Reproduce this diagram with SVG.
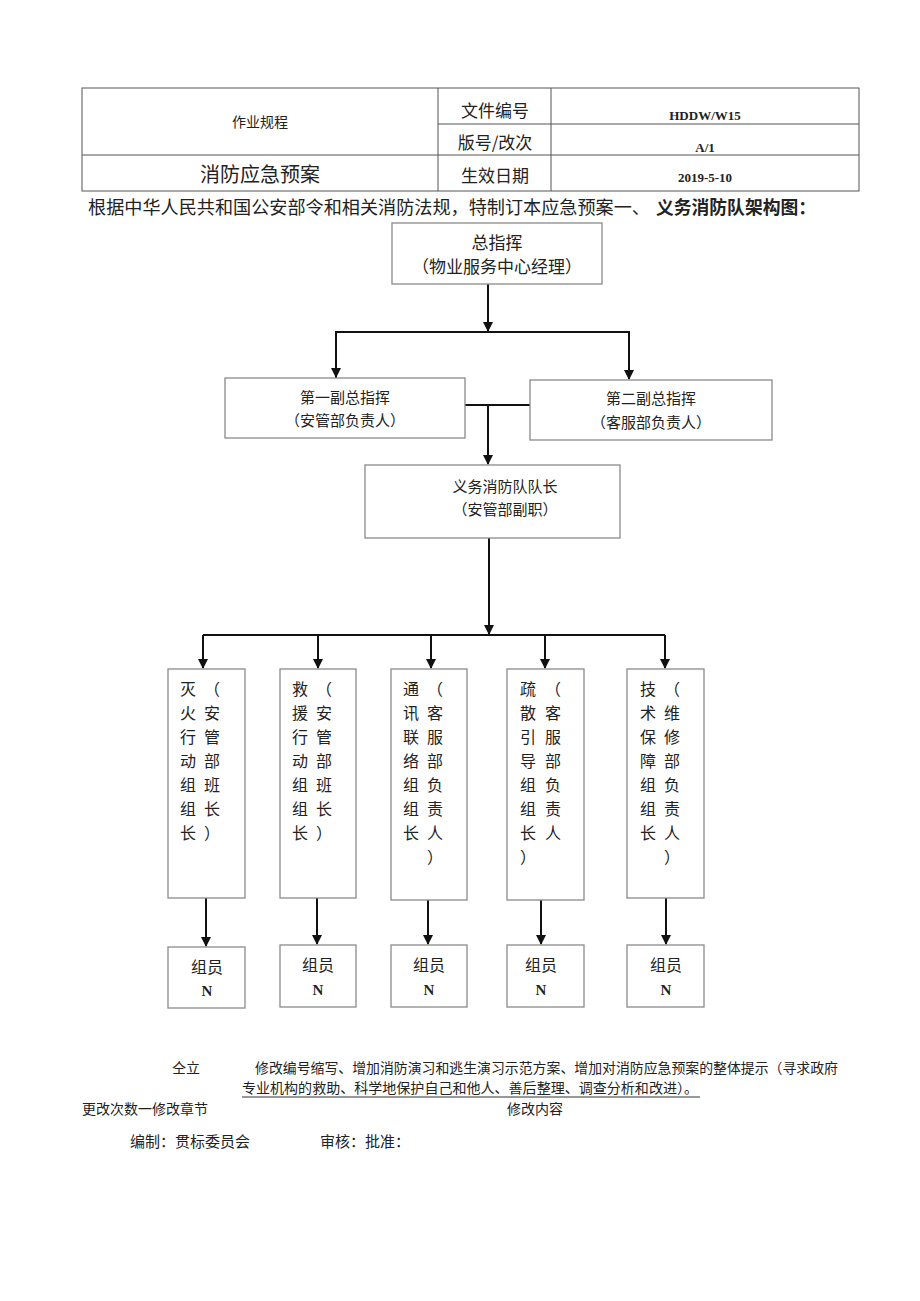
<svg xmlns="http://www.w3.org/2000/svg" width="920" height="1301" viewBox="0 0 920 1301">
<defs>
<marker id="ah" viewBox="0 0 10 10" refX="9" refY="5" markerWidth="5" markerHeight="5" orient="auto" markerUnits="strokeWidth">
<path d="M0,0 L10,5 L0,10 z" fill="#111"/>
</marker>
<style>
.t{font-family:"Liberation Serif","Noto Sans CJK SC",serif;fill:#222}
.s{font-family:"Noto Sans CJK SC",sans-serif;fill:#222}
.c{text-anchor:middle}
.b{fill:#fff;stroke:#8a8a8a;stroke-width:1.3}
.tb{fill:none;stroke:#555;stroke-width:1}
.ln{fill:none;stroke:#111;stroke-width:2}
.ar{fill:none;stroke:#111;stroke-width:2;marker-end:url(#ah)}
.n{font-size:16px}
</style>
</defs>
<rect width="920" height="1301" fill="#fff"/>

<g id="header">
<rect class="tb" x="82" y="88" width="777" height="103"/>
<line class="tb" x1="438" y1="88" x2="438" y2="191"/>
<line class="tb" x1="551" y1="88" x2="551" y2="191"/>
<line class="tb" x1="438" y1="124" x2="859" y2="124"/>
<line class="tb" x1="82" y1="155" x2="859" y2="155"/>
<text class="s c" x="260" y="127" font-size="14">作业规程</text>
<text class="s c" x="495" y="117" font-size="17">文件编号</text>
<text class="s c" x="495" y="149" font-size="17">版号/改次</text>
<text class="s c" x="260" y="182" font-size="20">消防应急预案</text>
<text class="s c" x="495" y="182" font-size="17">生效日期</text>
<text class="t c" x="705" y="120" font-size="13" font-weight="bold">HDDW/W15</text>
<text class="t c" x="705" y="152" font-size="13" font-weight="bold">A/1</text>
<text class="t c" x="705" y="182" font-size="13" font-weight="bold">2019-5-10</text>
<text class="t" x="88" y="214" font-size="18" textLength="562" lengthAdjust="spacingAndGlyphs">根据中华人民共和国公安部令和相关消防法规，特制订本应急预案一、</text>
<text class="t" x="656" y="214" font-size="18" font-weight="bold" textLength="160" lengthAdjust="spacingAndGlyphs">义务消防队架构图：</text>
</g>

<g id="connectors">
<line class="ar" x1="488" y1="284" x2="488" y2="331"/>
<polyline class="ln" points="336,378 336,332 629,332 629,378"/>
<line class="ar" x1="336" y1="332" x2="336" y2="377"/>
<line class="ar" x1="629" y1="332" x2="629" y2="379"/>
<line class="ln" x1="465" y1="405" x2="530" y2="405"/>
<line class="ar" x1="488" y1="405" x2="488" y2="464"/>
<line class="ar" x1="489" y1="538" x2="489" y2="634"/>
<line class="ln" x1="203" y1="635" x2="665" y2="635"/>
<line class="ar" x1="203" y1="635" x2="203" y2="668"/>
<line class="ar" x1="318" y1="635" x2="318" y2="668"/>
<line class="ar" x1="431" y1="635" x2="431" y2="668"/>
<line class="ar" x1="545" y1="635" x2="545" y2="668"/>
<line class="ar" x1="665" y1="635" x2="665" y2="668"/>
<line class="ar" x1="206" y1="898" x2="206" y2="946"/>
<line class="ar" x1="317" y1="898" x2="317" y2="944"/>
<line class="ar" x1="428" y1="900" x2="428" y2="944"/>
<line class="ar" x1="541" y1="900" x2="541" y2="944"/>
<line class="ar" x1="666" y1="898" x2="666" y2="944"/>
</g>

<g id="n-chief">
<rect class="b" x="392" y="223" width="210" height="61"/>
<text class="t c" x="497" y="249" font-size="17">总指挥</text>
<text class="t c" x="497" y="273" font-size="17">（物业服务中心经理）</text>
</g>
<g id="n-deputy1">
<rect class="b" x="225" y="378" width="240" height="60"/>
<text class="t c" x="345" y="403" font-size="15">第一副总指挥</text>
<text class="t c" x="345" y="426" font-size="15">（安管部负责人）</text>
</g>
<g id="n-deputy2">
<rect class="b" x="530" y="380" width="242" height="60"/>
<text class="t c" x="651" y="404" font-size="15">第二副总指挥</text>
<text class="t c" x="651" y="428" font-size="15">（客服部负责人）</text>
</g>
<g id="n-captain">
<rect class="b" x="365" y="465" width="255" height="73"/>
<text class="t c" x="505" y="492" font-size="15">义务消防队队长</text>
<text class="t c" x="505" y="515" font-size="15">（安管部副职）</text>
</g>

<g id="n-g1">
<rect class="b" x="168" y="669" width="77" height="229"/>
<text class="t n c" x="188" y="695">灭</text><text class="t n c" x="188" y="719">火</text><text class="t n c" x="188" y="743">行</text><text class="t n c" x="188" y="767">动</text><text class="t n c" x="188" y="791">组</text><text class="t n c" x="188" y="815">组</text><text class="t n c" x="188" y="839">长</text>
<text class="t n c" x="212" y="695">（</text><text class="t n c" x="212" y="719">安</text><text class="t n c" x="212" y="743">管</text><text class="t n c" x="212" y="767">部</text><text class="t n c" x="212" y="791">班</text><text class="t n c" x="212" y="815">长</text><text class="t n c" x="212" y="839">）</text>
</g>
<g id="n-g2">
<rect class="b" x="280" y="669" width="76" height="229"/>
<text class="t n c" x="300" y="695">救</text><text class="t n c" x="300" y="719">援</text><text class="t n c" x="300" y="743">行</text><text class="t n c" x="300" y="767">动</text><text class="t n c" x="300" y="791">组</text><text class="t n c" x="300" y="815">组</text><text class="t n c" x="300" y="839">长</text>
<text class="t n c" x="324" y="695">（</text><text class="t n c" x="324" y="719">安</text><text class="t n c" x="324" y="743">管</text><text class="t n c" x="324" y="767">部</text><text class="t n c" x="324" y="791">班</text><text class="t n c" x="324" y="815">长</text><text class="t n c" x="324" y="839">）</text>
</g>
<g id="n-g3">
<rect class="b" x="391" y="669" width="76" height="231"/>
<text class="t n c" x="411" y="695">通</text><text class="t n c" x="411" y="719">讯</text><text class="t n c" x="411" y="743">联</text><text class="t n c" x="411" y="767">络</text><text class="t n c" x="411" y="791">组</text><text class="t n c" x="411" y="815">组</text><text class="t n c" x="411" y="839">长</text>
<text class="t n c" x="435" y="695">（</text><text class="t n c" x="435" y="719">客</text><text class="t n c" x="435" y="743">服</text><text class="t n c" x="435" y="767">部</text><text class="t n c" x="435" y="791">负</text><text class="t n c" x="435" y="815">责</text><text class="t n c" x="435" y="839">人</text><text class="t n c" x="435" y="863">）</text>
</g>
<g id="n-g4">
<rect class="b" x="507" y="669" width="77" height="231"/>
<text class="t n c" x="528" y="695">疏</text><text class="t n c" x="528" y="719">散</text><text class="t n c" x="528" y="743">引</text><text class="t n c" x="528" y="767">导</text><text class="t n c" x="528" y="791">组</text><text class="t n c" x="528" y="815">组</text><text class="t n c" x="528" y="839">长</text><text class="t n c" x="528" y="863">）</text>
<text class="t n c" x="553" y="695">（</text><text class="t n c" x="553" y="719">客</text><text class="t n c" x="553" y="743">服</text><text class="t n c" x="553" y="767">部</text><text class="t n c" x="553" y="791">负</text><text class="t n c" x="553" y="815">责</text><text class="t n c" x="553" y="839">人</text>
</g>
<g id="n-g5">
<rect class="b" x="627" y="669" width="77" height="229"/>
<text class="t n c" x="648" y="695">技</text><text class="t n c" x="648" y="719">术</text><text class="t n c" x="648" y="743">保</text><text class="t n c" x="648" y="767">障</text><text class="t n c" x="648" y="791">组</text><text class="t n c" x="648" y="815">组</text><text class="t n c" x="648" y="839">长</text>
<text class="t n c" x="672" y="695">（</text><text class="t n c" x="672" y="719">维</text><text class="t n c" x="672" y="743">修</text><text class="t n c" x="672" y="767">部</text><text class="t n c" x="672" y="791">负</text><text class="t n c" x="672" y="815">责</text><text class="t n c" x="672" y="839">人</text><text class="t n c" x="672" y="863">）</text>
</g>

<g id="n-m1"><rect class="b" x="168" y="947" width="77" height="61"/><text class="t n c" x="207" y="973">组员</text><text class="t c" x="207" y="996" font-size="15" font-weight="bold">N</text></g>
<g id="n-m2"><rect class="b" x="280" y="945" width="76" height="62"/><text class="t n c" x="318" y="971">组员</text><text class="t c" x="318" y="995" font-size="15" font-weight="bold">N</text></g>
<g id="n-m3"><rect class="b" x="391" y="945" width="76" height="62"/><text class="t n c" x="429" y="971">组员</text><text class="t c" x="429" y="995" font-size="15" font-weight="bold">N</text></g>
<g id="n-m4"><rect class="b" x="507" y="945" width="77" height="62"/><text class="t n c" x="541" y="971">组员</text><text class="t c" x="541" y="995" font-size="15" font-weight="bold">N</text></g>
<g id="n-m5"><rect class="b" x="627" y="945" width="77" height="62"/><text class="t n c" x="666" y="971">组员</text><text class="t c" x="666" y="995" font-size="15" font-weight="bold">N</text></g>

<g id="footer">
<text class="t" x="172" y="1073" font-size="14">仝立</text>
<text class="t" x="255" y="1073" font-size="14" textLength="583" lengthAdjust="spacingAndGlyphs">修改编号缩写、增加消防演习和逃生演习示范方案、增加对消防应急预案的整体提示（寻求政府</text>
<text class="t" x="242" y="1093" font-size="14" textLength="456" lengthAdjust="spacingAndGlyphs">专业机构的救助、科学地保护自己和他人、善后整理、调查分析和改进）。</text>
<line x1="242" y1="1097" x2="700" y2="1097" stroke="#333" stroke-width="1"/>
<text class="t" x="82" y="1114" font-size="14">更改次数一修改章节</text>
<text class="t" x="507" y="1114" font-size="14">修改内容</text>
<text class="t" x="130" y="1147" font-size="15">编制：贯标委员会</text>
<text class="t" x="320" y="1147" font-size="15">审核：批准：</text>
</g>
</svg>
